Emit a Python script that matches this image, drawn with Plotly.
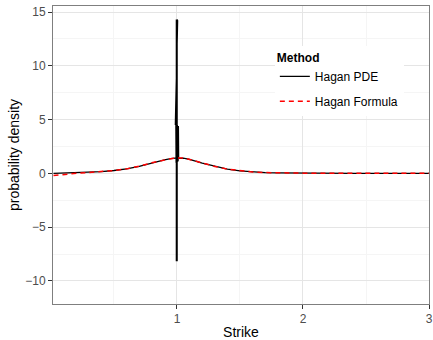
import plotly.graph_objects as go

# Strike grid and the two density estimates
strike = [0.02, 0.1, 0.2, 0.3, 0.4, 0.5, 0.6, 0.7, 0.8, 0.9, 0.95, 1.0, 1.05,
          1.1, 1.2, 1.3, 1.4, 1.5, 1.6, 1.7, 1.8, 1.9, 2.0, 2.2, 2.4, 2.6, 2.8, 3.0]
hagan_formula = [-0.2, -0.08, 0.01, 0.08, 0.15, 0.27, 0.42, 0.66, 0.98, 1.26, 1.37, 1.43, 1.42,
                 1.30, 0.95, 0.65, 0.40, 0.23, 0.13, 0.08, 0.05, 0.035, 0.025, 0.015, 0.01, 0.006, 0.004, 0.003]
hagan_pde = [0.0, 0.02, 0.05, 0.10, 0.16, 0.27, 0.42, 0.66, 0.98, 1.26, 1.37, 1.43, 1.42,
             1.30, 0.95, 0.65, 0.40, 0.23, 0.13, 0.08, 0.05, 0.035, 0.025, 0.015, 0.01, 0.006, 0.004, 0.003]

# Oscillation of the PDE density around the forward (strike = 1)
spike_x = [0.995, 0.995, 0.997, 0.997, 0.999, 0.999, 1.001, 1.001, 1.003, 1.003, 1.005, 1.005,
           0.987, 0.989, 0.991, 0.993, 0.995, 0.997, 0.999, 1.001, 1.003, 1.005, 1.007, 1.009, 1.011, 1.013]
spike_y = [14.3, -8.1, -8.1, 14.3, 14.3, -8.1, -8.1, 14.3, 14.3, -8.1, -8.1, 14.2,
           4.5, 1.1, 4.6, 1.0, 4.5, 1.1, 4.6, 1.0, 4.5, 1.1, 4.5, 1.2, 4.4, 1.4]

# Splice the oscillation into the PDE curve right after strike = 1
i = strike.index(1.0) + 1
pde_x = strike[:i] + spike_x + strike[i:]
pde_y = hagan_pde[:i] + spike_y + hagan_pde[i:]

FONT = "Liberation Sans, Arial, sans-serif"

fig = go.Figure()
fig.add_trace(go.Scatter(x=pde_x, y=pde_y, mode="lines", name="Hagan PDE",
                         legendgroup="pde",
                         line=dict(color="black", width=1.3)))
fig.add_trace(go.Scatter(x=strike, y=hagan_formula, mode="lines", name="Hagan Formula",
                         legendgroup="formula",
                         line=dict(color="#ff0000", width=1.5, dash="5px,4px")))

axis_common = dict(
    automargin=False,
    showline=True, mirror=True, linecolor="#7f7f7f", linewidth=1,
    showgrid=True, gridcolor="#e5e5e5", gridwidth=1,
    zeroline=False, ticks="outside", ticklen=4, tickcolor="#333333",
    tickfont=dict(family=FONT, size=12, color="#4d4d4d"),
)

fig.update_xaxes(range=[0.016, 3], tickmode="linear", tick0=0, dtick=1,
                 minor=dict(dtick=0.5, tick0=0, showgrid=True, gridcolor="#f5f5f5", ticks=""),
                 title=dict(text="Strike", standoff=2,
                            font=dict(family=FONT, size=14, color="black")),
                 **axis_common)
fig.update_yaxes(range=[-12.14, 15.56], tickmode="linear", tick0=0, dtick=5,
                 minor=dict(dtick=2.5, tick0=0, showgrid=True, gridcolor="#f5f5f5", ticks=""),
                 title=dict(text="probability density", standoff=2,
                            font=dict(family=FONT, size=14, color="black")),
                 **axis_common)

fig.update_layout(
    width=433, height=340,
    margin=dict(l=53, r=4, t=6, b=36),
    paper_bgcolor="white", plot_bgcolor="white",
    font=dict(family=FONT, size=12, color="black"),
    legend=dict(
        x=0.59, y=0.865, xanchor="left", yanchor="top",
        bgcolor="white", borderwidth=0,
        title=dict(text="<b>Method</b>", font=dict(size=12)),
        font=dict(size=12), itemwidth=30, tracegroupgap=6,
    ),
)

fig.write_html("out.html")
